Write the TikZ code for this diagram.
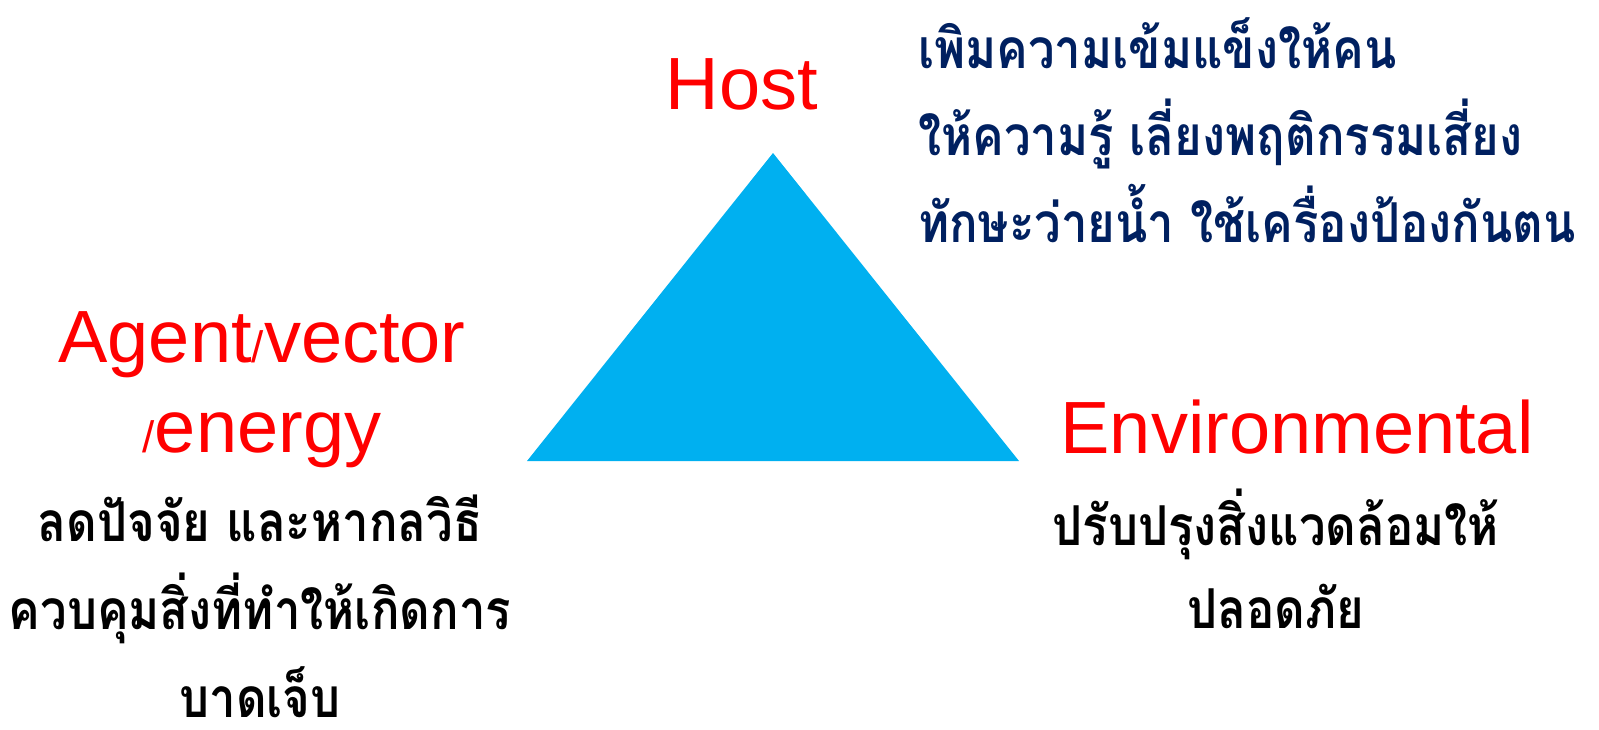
\documentclass[tikz,border=0pt]{standalone}
\usepackage{fontspec}
\setmainfont{Liberation Sans}
\newfontfamily\thaifont[Script=Thai, FakeStretch=0.86]{Loma}
\usetikzlibrary{calc}
\definecolor{triBlue}{HTML}{00B0F0}
\definecolor{hostNavy}{HTML}{002060}
\newcommand{\smallSlash}{{\fontsize{44}{44}\selectfont /}}
\tikzset{
	factor/.style={text=red, inner sep=0pt, align=center, font=\fontsize{74}{90}\selectfont},
	measure/.style={inner sep=0pt, font=\thaifont\bfseries\fontsize{55}{87}\selectfont},
}

\begin{document}
\begin{tikzpicture}[x=1pt, y=-1pt]
	\useasboundingbox (0,0) rectangle (1599,729);
	\coordinate (T_top) at (773,153);
	\coordinate (T_L) at (527,461);
	\coordinate (T_R) at (1019,461);

	\fill[triBlue] (T_top) -- (T_L) -- (T_R) -- cycle;

	% base anchor sits on the last line
	\node[factor, anchor=base] (host) at (742,109) {Host};
	\node[factor, anchor=base] (agent) at (262,452) {Agent\smallSlash vector\\\smallSlash energy};
	\node[factor, anchor=base] (env) at (1297,453) {Environmental};

	\node[measure, text=hostNavy, align=left, anchor=base west] (hostText) at (918,242)
		{เพิมความเข้มแข็งให้คน\\ให้ความรู้ เลี่ยงพฤติกรรมเสี่ยง\\ทักษะว่ายน้ำ ใช้เครื่องป้องกันตน};
	\node[measure, align=center, anchor=base, font=\thaifont\bfseries\fontsize{55}{88}\selectfont] (agentText) at (260,717)
		{ลดปัจจัย และหากลวิธี\\ควบคุมสิ่งที่ทำให้เกิดการ\\บาดเจ็บ};
	\node[measure, align=center, anchor=base, font=\thaifont\bfseries\fontsize{55}{83}\selectfont] (envText) at (1276,628)
		{ปรับปรุงสิ่งแวดล้อมให้\\ปลอดภัย};
\end{tikzpicture}
\end{document}
